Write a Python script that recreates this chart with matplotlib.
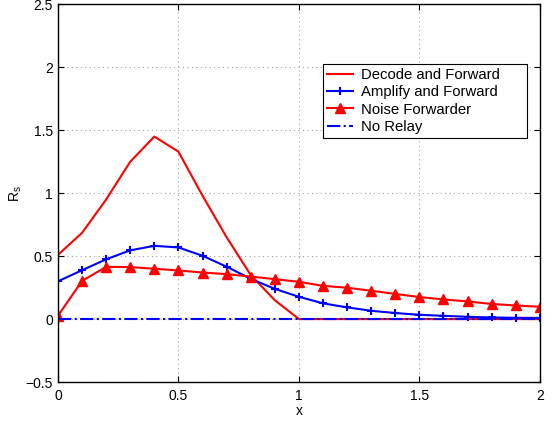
import matplotlib

matplotlib.use("Agg")
import matplotlib.pyplot as plt
import numpy as np

x = np.round(np.arange(0, 2.01, 0.1), 2)

decode_forward = [0.51, 0.685, 0.95, 1.25, 1.45, 1.33, 0.98, 0.65, 0.35, 0.15, 0.0,
                  0.0, 0.0, 0.0, 0.0, 0.0, 0.0, 0.0, 0.0, 0.0, 0.0]
amplify_forward = [0.30, 0.388, 0.475, 0.546, 0.582, 0.569, 0.503, 0.416, 0.32, 0.24, 0.177,
                   0.125, 0.093, 0.066, 0.048, 0.034, 0.026, 0.018, 0.013, 0.01, 0.009]
noise_forwarder = [0.026, 0.303, 0.415, 0.413, 0.40, 0.386, 0.37, 0.357, 0.338, 0.317, 0.296,
                   0.264, 0.249, 0.225, 0.20, 0.175, 0.156, 0.14, 0.12, 0.108, 0.098]
no_relay = [0.0] * len(x)

plt.rcParams.update({"font.family": "Liberation Sans", "font.size": 10,
                     "mathtext.fontset": "custom", "mathtext.rm": "Liberation Sans",
                     "mathtext.it": "Liberation Sans"})

fig = plt.figure(figsize=(5.52, 4.21), dpi=100)
ax = fig.add_axes([0.105, 0.0926, 0.873, 0.897])

ax.plot(x, decode_forward, color="red", linewidth=1.5, label="Decode and Forward")
ax.plot(x, amplify_forward, color="blue", linewidth=1.5, marker="+", markersize=6,
        markeredgewidth=1.5, label="Amplify and Forward")
ax.plot(x, noise_forwarder, color="red", linewidth=1.5, marker="^", markersize=6.5,
        markerfacecolor="red", label="Noise Forwarder")
ax.plot(x, no_relay, color="blue", linewidth=1.5, linestyle="-.", label="No Relay")

ax.set_xlim(0, 2)
ax.set_ylim(-0.5, 2.5)
ax.set_xticks([0, 0.5, 1, 1.5, 2], ["0", "0.5", "1", "1.5", "2"])
ax.set_yticks([-0.5, 0, 0.5, 1, 1.5, 2, 2.5], ["\u22120.5", "0", "0.5", "1", "1.5", "2", "2.5"])
ax.tick_params(direction="in", top=True, right=True, length=4, width=0.8)
ax.tick_params(axis="x", pad=5)
ax.grid(True, color="#a0a0a0", linestyle=(0, (1, 3)), linewidth=0.8)
for sp in ax.spines.values():
    sp.set_linewidth(1.0)
ax.set_xlabel("x", labelpad=1)
ax.set_ylabel("R$_s$", labelpad=1)

leg = ax.legend(loc="upper left", bbox_to_anchor=(0.550, 0.0, 0.423, 0.841), mode="expand",
                frameon=True, fancybox=False, edgecolor="black", framealpha=1,
                borderpad=0.25, labelspacing=0.22, handlelength=1.75, handletextpad=0.55,
                borderaxespad=0, fontsize=10.7)
leg.get_frame().set_linewidth(0.8)

fig.savefig("out.png", dpi=100, facecolor="white")
